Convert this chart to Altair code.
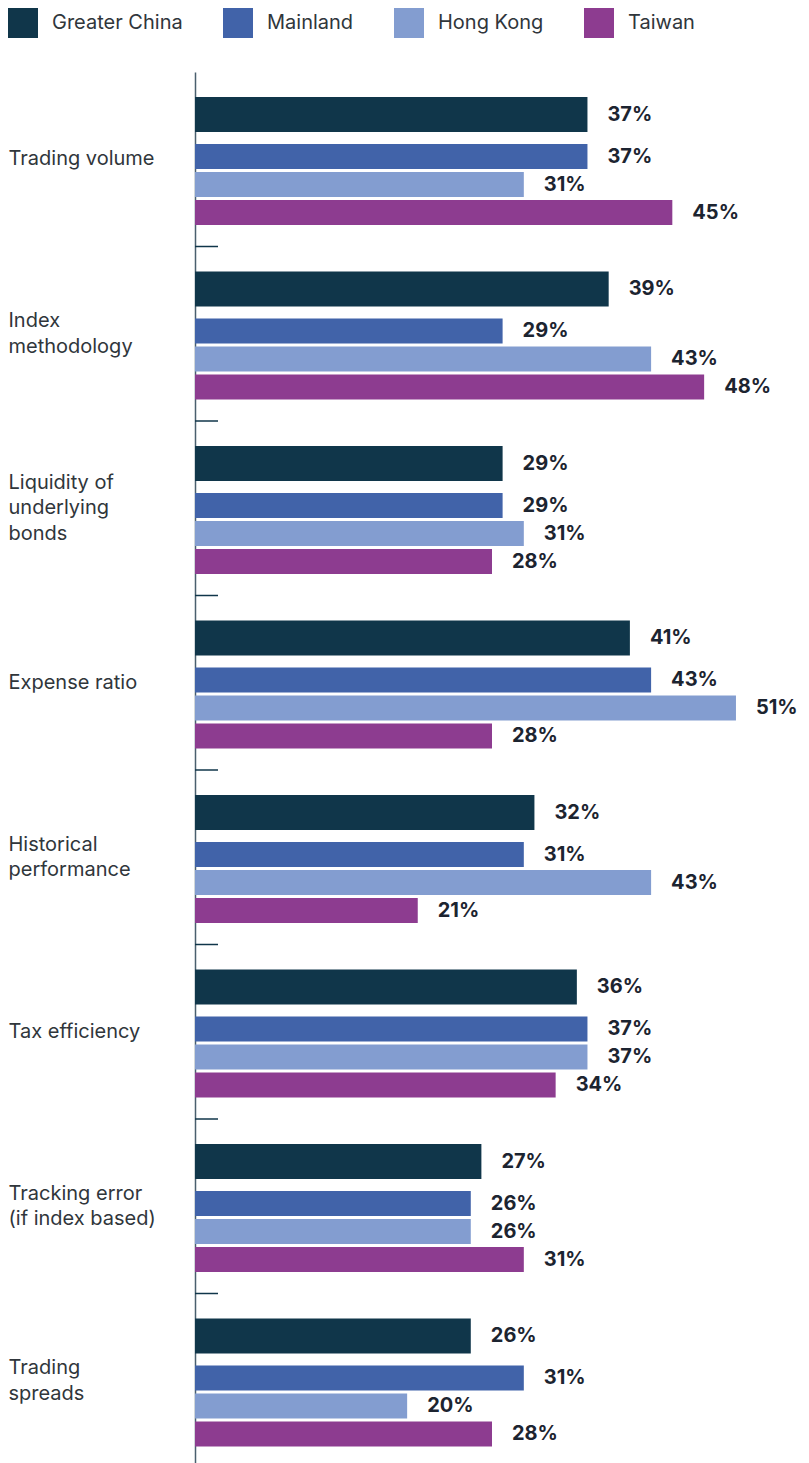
import altair as alt
import pandas as pd

# ---- data ----
categories = [
    "Trading volume",
    "Index|methodology",
    "Liquidity of|underlying|bonds",
    "Expense ratio",
    "Historical|performance",
    "Tax efficiency",
    "Tracking error|(if index based)",
    "Trading|spreads",
]
series = ["Greater China", "Mainland", "Hong Kong", "Taiwan"]
greater_china = [37, 39, 29, 41, 32, 36, 27, 26]
mainland = [37, 29, 29, 43, 31, 37, 26, 31]
hong_kong = [31, 43, 31, 51, 43, 37, 26, 20]
taiwan = [45, 48, 28, 28, 21, 34, 31, 28]

colors = ["#10364a", "#4163a9", "#839dd0", "#8d3c90"]

rows = []
for s, vals in zip(series, [greater_china, mainland, hong_kong, taiwan]):
    for c, v in zip(categories, vals):
        rows.append({"category": c, "series": s, "value": v, "label": f"{v}%"})
df = pd.DataFrame(rows)
sep_df = pd.DataFrame({"category": categories[1:]})

# slots inside each group (empty slots create the gaps)
slot_domain = ["_t1", "_t2", "Greater China", "_g1", "_g2", "Mainland", "_g3",
               "Hong Kong", "_g4", "Taiwan", "_b1"]

FONT = "Inter"
LINE_H = 25.5

# centre multi-line category labels vertically on their group
label_offset = {
    "condition": [
        {"test": "length(split(datum.value, '|')) == 3", "value": -LINE_H},
        {"test": "length(split(datum.value, '|')) == 2", "value": -LINE_H / 2},
    ],
    "value": 0,
}


def y_enc(band_position=None):
    kw = {}
    if band_position is not None:
        kw["bandPosition"] = band_position
    return alt.Y(
        "category:N",
        sort=categories,
        scale=alt.Scale(paddingInner=0, paddingOuter=0),
        axis=alt.Axis(
            title=None,
            labelExpr="split(datum.label, '|')",
            labelAlign="left",
            labelBaseline="middle",
            labelPadding=187,
            labelOffset=label_offset,
            ticks=False,
            tickSize=0,
            labelFontSize=20,
            labelFont=FONT,
            labelColor="#30363b",
            labelLineHeight=LINE_H,
            labelLimit=300,
            domainColor="#4a5f6e",
            domainWidth=1.5,
            grid=False,
        ),
        **kw,
    )


y_off = alt.YOffset(
    "series:N",
    scale=alt.Scale(domain=slot_domain, paddingInner=0, paddingOuter=0.732, align=0.366),
)
x_enc = alt.X("value:Q", scale=alt.Scale(domain=[0, 56]), axis=None)
color_enc = alt.Color(
    "series:N",
    scale=alt.Scale(domain=series, range=colors),
    legend=alt.Legend(
        title=None,
        orient="none",
        legendX=-187,
        legendY=-64,
        direction="horizontal",
        symbolType="square",
        symbolSize=900,
        symbolStrokeWidth=0,
        symbolOpacity=1,
        labelFontSize=20,
        labelFont=FONT,
        labelColor="#30363b",
        labelOffset=14,
        columnPadding=40,
    ),
)

base = alt.Chart(df)

bars_gc = base.transform_filter(alt.datum.series == "Greater China").mark_bar(size=35).encode(
    x=x_enc, y=y_enc(), yOffset=y_off, color=color_enc
)
bars_other = base.transform_filter(alt.datum.series != "Greater China").mark_bar(size=25).encode(
    x=x_enc, y=y_enc(), yOffset=y_off, color=color_enc
)
labels = base.mark_text(
    align="left", baseline="middle", dx=20, fontSize=20, fontWeight="bold", font=FONT, color="#1c2430"
).encode(x=x_enc, y=y_enc(), yOffset=y_off, text="label:N")

seps = alt.Chart(sep_df).mark_rule(color="#10364a", strokeWidth=1.5).encode(
    y=y_enc(0), x=alt.value(0), x2=alt.value(23)
)

chart = (
    alt.layer(bars_gc, bars_other, labels, seps)
    .properties(width=594, height=1396, padding=0)
    .configure_view(stroke=None)
)

chart.save("out.html", embed_options={"renderer": "svg", "actions": False})
